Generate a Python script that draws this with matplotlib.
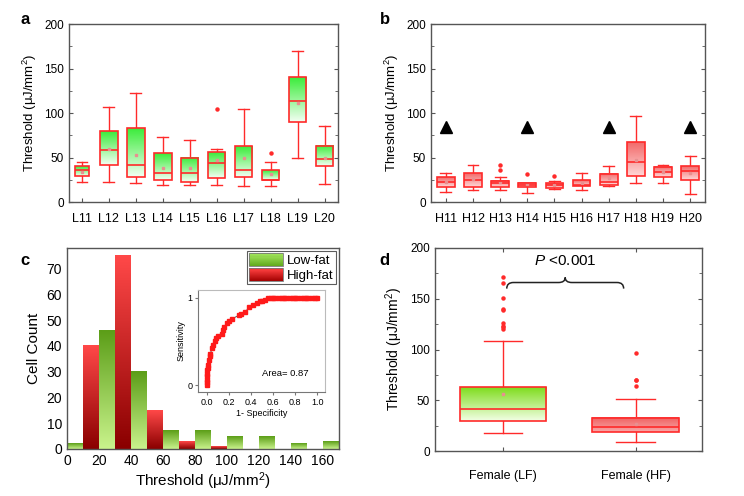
import numpy as np
import matplotlib
matplotlib.use('Agg')
import matplotlib.pyplot as plt
from matplotlib.colors import LinearSegmentedColormap, to_rgb
from matplotlib.patches import Rectangle, PathPatch
from matplotlib.path import Path
from matplotlib.legend_handler import HandlerBase

plt.rcParams['font.family'] = ['Liberation Sans', 'DejaVu Sans']
plt.rcParams['mathtext.fontset'] = 'custom'
plt.rcParams['mathtext.rm'] = 'Liberation Sans'
plt.rcParams['mathtext.it'] = 'Liberation Sans:italic'

# ---- panel a : low-fat mice ----
a_names = ['L11', 'L12', 'L13', 'L14', 'L15', 'L16', 'L17', 'L18', 'L19', 'L20']
a_lo = [23, 23, 21, 19.5, 19.5, 19.5, 17.5, 17.5, 49, 20.5]
a_q1 = [29.5, 42, 28, 25, 23, 27, 28.5, 25, 90, 41]
a_med = [36, 58, 42, 33, 32.5, 44, 35.5, 25, 114, 48]
a_q3 = [40, 80, 83, 55, 50, 56, 63, 35.5, 140, 63.5]
a_hi = [44.5, 107, 122, 72.5, 70, 60, 105, 44.5, 170, 85]
a_mean = [34, 60, 53, 38, 38, 47, 50, 32, 111, 50]
a_fliers = [[], [], [], [], [], [105], [], [55], [], []]

# ---- panel b : high-fat mice ----
b_names = ['H11', 'H12', 'H13', 'H14', 'H15', 'H16', 'H17', 'H18', 'H19', 'H20']
b_lo = [11, 13, 13, 9.7, 15, 13, 18.3, 21.3, 21.7, 9]
b_q1 = [17, 17, 17, 16.5, 15.7, 17.6, 19, 29, 27.7, 25]
b_med = [23, 25, 21, 18.7, 19.4, 19.4, 22, 44.5, 34, 34.4]
b_q3 = [28, 32.5, 24, 21, 21.3, 24.3, 31.4, 67, 39.6, 40.7]
b_hi = [32.5, 42, 27.7, 21.7, 24, 33, 41, 97, 42, 52]
b_mean = [23, 26, 22, 20, 19, 21, 26.5, 47.5, 33.6, 32.5]
b_fliers = [[], [], [35.5, 42], [32], [29], [], [], [], [], []]
b_marked = ['H11', 'H14', 'H17', 'H20']
b_mark_y = 84

# ---- panel c : histogram ----
lf_bins = [0, 20, 40, 60, 80, 100, 120, 140, 160]
lf_counts = [2, 46, 30, 7, 7, 5, 5, 2, 3]
hf_bins = [10, 30, 50, 70, 90]
hf_counts = [40, 75, 15, 3, 1]
bin_width = 10

# ROC inset
roc_x = [0, 0, 0, 0, 0, 0.005, 0.01, 0.01, 0.02, 0.025, 0.03, 0.05, 0.06, 0.07,
         0.085, 0.1, 0.14, 0.15, 0.16, 0.18, 0.2, 0.23, 0.29, 0.31, 0.35, 0.38,
         0.42, 0.45, 0.48, 0.5, 0.53, 0.55, 0.58, 0.6, 0.62, 0.65, 0.68, 0.7,
         0.72, 0.75, 0.78, 0.8, 0.82, 0.85, 0.88, 0.9, 0.92, 0.95, 0.98, 1.0]
roc_y = [0, 0.03, 0.06, 0.1, 0.13, 0.17, 0.2, 0.23, 0.29, 0.33, 0.36, 0.42, 0.46,
         0.5, 0.54, 0.56, 0.59, 0.63, 0.67, 0.71, 0.74, 0.76, 0.8, 0.81, 0.84,
         0.89, 0.92, 0.94, 0.96, 0.96, 0.98, 1.0, 1.0, 1.0, 1.0, 1.0, 1.0, 1.0,
         1.0, 1.0, 1.0, 1.0, 1.0, 1.0, 1.0, 1.0, 1.0, 1.0, 1.0, 1.0]
roc_area = 0.87

# ---- panel d : pooled ----
d_names = ['Female (LF)', 'Female (HF)']
d_lo = [17.5, 9.2]
d_q1 = [30, 19]
d_med = [41.5, 23.3]
d_q3 = [63, 33]
d_hi = [108, 51.6]
d_mean = [56, 27]
d_fliers = [[120, 121.7, 123.5, 126, 139, 140, 150.5, 165.5, 171], [64, 69.5, 70, 96.7]]

RED = '#ff2a2a'
SPINE = '#555555'


def grad_rect(ax, x0, x1, y0, y1, c_top, c_bot, z=1):
    cmap = LinearSegmentedColormap.from_list('g', [c_bot, c_top])
    img = np.linspace(0, 1, 64).reshape(-1, 1)
    return ax.imshow(img, extent=(x0, x1, y0, y1), origin='lower', cmap=cmap,
                     aspect='auto', zorder=z, interpolation='bilinear')


def make_stats(lo, q1, med, q3, hi, mean, fliers):
    return [dict(whislo=lo[i], q1=q1[i], med=med[i], q3=q3[i], whishi=hi[i],
                 mean=mean[i], fliers=fliers[i]) for i in range(len(lo))]


def draw_boxes(ax, stats, widths, c_top, c_bot, capw):
    bp = ax.bxp(stats, widths=widths, patch_artist=True, showmeans=True,
                capwidths=capw,
                boxprops=dict(facecolor='none', edgecolor=RED, linewidth=1.2),
                medianprops=dict(color=RED, linewidth=1.2),
                whiskerprops=dict(color=RED, linewidth=1.0),
                capprops=dict(color=RED, linewidth=1.0),
                meanprops=dict(marker='s', markersize=2, markerfacecolor='#e89090',
                               markeredgecolor='#e89090'),
                flierprops=dict(marker='o', markersize=2.2, markerfacecolor=RED,
                                markeredgecolor=RED))
    for i, box in enumerate(bp['boxes']):
        box.set_zorder(3)
        ext = box.get_path().get_extents()
        ct = c_top[i] if isinstance(c_top, list) else c_top
        cb = c_bot[i] if isinstance(c_bot, list) else c_bot
        grad_rect(ax, ext.x0, ext.x1, ext.y0, ext.y1, ct, cb, z=2)
    return bp


def style_axes(ax, fs=8.5):
    for s in ax.spines.values():
        s.set_color(SPINE)
        s.set_linewidth(1.0)
    ax.tick_params(direction='in', top=True, right=True, labelsize=fs,
                   color=SPINE, length=3)
    ax.tick_params(which='minor', direction='in', right=True, left=True,
                   color=SPINE, length=2)


fig = plt.figure(figsize=(7.44, 4.96), dpi=100)

ylab = 'Threshold (μJ/mm$^2$)'

# panel a
ax_a = fig.add_axes([0.0927, 0.5927, 0.3616, 0.3589])
st = make_stats(a_lo, a_q1, a_med, a_q3, a_hi, a_mean, a_fliers)
wa = [0.5] + [0.65] * 9
draw_boxes(ax_a, st, wa, '#3cec3c', '#f2fff2', [0.35] + [0.4] * 9)
ax_a.set_xlim(0.52, 10.5)
ax_a.set_ylim(0, 200)
ax_a.set_xticks(range(1, 11))
ax_a.set_xticklabels(a_names)
ax_a.set_yticks([0, 50, 100, 150, 200])
ax_a.set_yticks([25, 75, 125, 175], minor=True)
style_axes(ax_a)
ax_a.tick_params(axis='x', top=False, pad=8, labelsize=9)
ax_a.set_ylabel(ylab, fontsize=9.5)

# panel b
ax_b = fig.add_axes([0.5793, 0.5927, 0.3683, 0.3589])
st = make_stats(b_lo, b_q1, b_med, b_q3, b_hi, b_mean, b_fliers)
draw_boxes(ax_b, st, 0.65, '#f26a6a', '#ffd6d6', 0.4)
mx = [b_names.index(n) + 1 for n in b_marked]
ax_b.plot(mx, [b_mark_y] * len(mx), '^', color='black', markersize=8, zorder=5)
ax_b.set_xlim(0.45, 10.55)
ax_b.set_ylim(0, 200)
ax_b.set_xticks(range(1, 11))
ax_b.set_xticklabels(b_names)
ax_b.set_yticks([0, 50, 100, 150, 200])
ax_b.set_yticks([25, 75, 125, 175], minor=True)
style_axes(ax_b)
ax_b.tick_params(axis='x', top=False, pad=8, labelsize=9)
ax_b.set_ylabel(ylab, fontsize=9.5)

# panel c
ax_c = fig.add_axes([0.090, 0.0948, 0.3656, 0.4052])
G_TOP, G_BOT = '#5c9e18', '#c9f38c'
R_TOP, R_BOT = '#ff4848', '#8a0000'
bars_lf = ax_c.bar(lf_bins, lf_counts, width=bin_width, align='edge',
                   color='none', edgecolor='none', zorder=3)
bars_hf = ax_c.bar(hf_bins, hf_counts, width=bin_width, align='edge',
                   color='none', edgecolor='none', zorder=3)
for bars, ct, cb in [(bars_lf, G_TOP, G_BOT), (bars_hf, R_TOP, R_BOT)]:
    for b in bars:
        x0, w, h = b.get_x(), b.get_width(), b.get_height()
        grad_rect(ax_c, x0 + 0.15, x0 + w - 0.15, 0, h, ct, cb, z=2)
ax_c.set_xlim(0, 170)
ax_c.set_ylim(0, 78)
ax_c.set_xticks(range(0, 161, 20))
ax_c.set_yticks(range(0, 71, 10))
style_axes(ax_c, fs=10)
ax_c.tick_params(length=0)
ax_c.set_ylabel('Cell Count', fontsize=11)
ax_c.set_xlabel('Threshold (μJ/mm$^2$)', fontsize=11, labelpad=2)


class GradHandler(HandlerBase):
    def __init__(self, top, bot):
        super().__init__()
        self.top, self.bot = np.array(to_rgb(top)), np.array(to_rgb(bot))

    def create_artists(self, legend, orig_handle, xdescent, ydescent, width,
                       height, fontsize, trans):
        arts = []
        n = 12
        for i in range(n):
            f = (i + 0.5) / n
            c = self.bot * (1 - f) + self.top * f
            arts.append(Rectangle((-xdescent, -ydescent + i * height / n), width,
                                  height / n + 0.3, fc=c, ec='none', transform=trans))
        arts.append(Rectangle((-xdescent, -ydescent), width, height, fc='none',
                              ec='#777777', lw=0.6, transform=trans))
        return arts


h1 = Rectangle((0, 0), 1, 1)
h2 = Rectangle((0, 0), 1, 1)
leg = ax_c.legend([h1, h2], ['Low-fat', 'High-fat'], loc='upper right',
                  handler_map={h1: GradHandler('#a6e860', '#60a81c'),
                               h2: GradHandler('#ff4040', '#a00000')},
                  fontsize=9.5, frameon=True, fancybox=False, edgecolor='#333333',
                  borderaxespad=0.25, handlelength=2.6, handleheight=1.1,
                  borderpad=0.15, labelspacing=0.1, handletextpad=0.3)
leg.get_frame().set_linewidth(0.8)

# ROC inset
ax_i = fig.add_axes([0.2661, 0.2097, 0.1707, 0.2056])
ax_i.plot(roc_x, roc_y, '-', color='#555555', lw=0.7, zorder=2)
ax_i.plot(roc_x, roc_y, 's', color='#ff1a1a', markersize=2.6, zorder=3)
ax_i.set_xlim(-0.08, 1.07)
ax_i.set_ylim(-0.08, 1.09)
ax_i.set_xticks([0, 0.2, 0.4, 0.6, 0.8, 1.0])
ax_i.set_yticks([0, 1])
for s in ax_i.spines.values():
    s.set_color('#bbbbbb')
    s.set_linewidth(0.8)
ax_i.spines['left'].set_color('#777777')
ax_i.spines['bottom'].set_color('#777777')
ax_i.tick_params(labelsize=6.5, direction='out', length=2, color='#777777', pad=2)
ax_i.set_xlabel('1- Specificity', fontsize=6.5, labelpad=2)
ax_i.set_ylabel('Sensitivity', fontsize=6.5, labelpad=1)
ax_i.text(0.71, 0.13, 'Area= %.2f' % roc_area, fontsize=6.8, ha='center', va='center')

# panel d
ax_d = fig.add_axes([0.5847, 0.0907, 0.3589, 0.4093])
st = make_stats(d_lo, d_q1, d_med, d_q3, d_hi, d_mean, d_fliers)
draw_boxes(ax_d, st, 0.65, ['#7fdc1e', '#f06060'], ['#f2ffe4', '#f8a8a8'], 0.29)
ax_d.set_xlim(0.49, 2.5)
ax_d.set_ylim(0, 200)
ax_d.set_xticks([1, 2])
ax_d.set_xticklabels(d_names)
ax_d.set_yticks([0, 50, 100, 150, 200])
ax_d.set_yticks([25, 75, 125, 175], minor=True)
style_axes(ax_d)
ax_d.tick_params(axis='x', pad=14, labelsize=9)
ax_d.set_ylabel(ylab, fontsize=10)

# curly brace
xl, xr, xc = 1.03, 1.91, 1.47
y0, ym, yt = 160, 166, 171
dx = 0.05
verts = [(xl, y0), (xl, ym), (xl + dx, ym), (xl + dx, ym),
         (xc - dx, ym), (xc, ym), (xc, yt), (xc, ym), (xc + dx, ym),
         (xr - dx, ym), (xr, ym), (xr, y0)]
codes = [Path.MOVETO, Path.CURVE3, Path.CURVE3, Path.LINETO,
         Path.LINETO, Path.CURVE3, Path.CURVE3, Path.CURVE3, Path.CURVE3,
         Path.LINETO, Path.CURVE3, Path.CURVE3]
ax_d.add_patch(PathPatch(Path(verts, codes), fc='none', ec='#222222', lw=1.1, zorder=4))
ax_d.text(xc, 187, '$\\it{P}$ <0.001', fontsize=11, ha='center', va='center')

# panel labels
for lab, x, y in [('a', 0.028, 0.975), ('b', 0.51, 0.975), ('c', 0.028, 0.49), ('d', 0.51, 0.49)]:
    fig.text(x, y, lab, fontsize=12, fontweight='bold', ha='left', va='top')

fig.savefig('out.png', dpi=100)
